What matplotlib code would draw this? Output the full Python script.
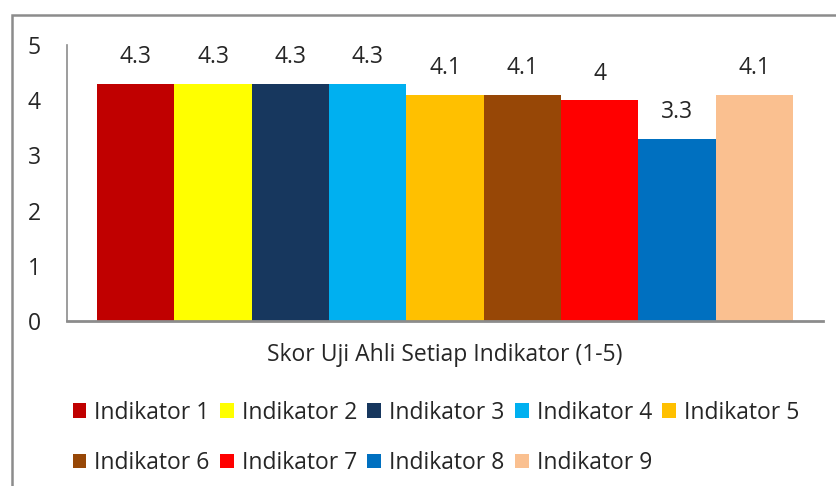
import numpy as np
import matplotlib.pyplot as plt
from matplotlib.patches import Rectangle, Patch

labels = ['Indikator 1', 'Indikator 2', 'Indikator 3', 'Indikator 4', 'Indikator 5',
          'Indikator 6', 'Indikator 7', 'Indikator 8', 'Indikator 9']
scores = [4.3, 4.3, 4.3, 4.3, 4.1, 4.1, 4, 3.3, 4.1]
score_text = ['4.3', '4.3', '4.3', '4.3', '4.1', '4.1', '4', '3.3', '4.1']
colors = ['#C00000', '#FFFF00', '#17375E', '#00B0F0', '#FFC000',
          '#974706', '#FF0000', '#0070C0', '#FAC090']

plt.rcParams['font.family'] = ['Open Sans', 'DejaVu Sans']
fs = 16.5
W, H = 837, 486

fig = plt.figure(figsize=(W / 100, H / 100), dpi=100)
ax = fig.add_axes([67 / W, 1 - 321 / H, (823 - 67) / W, (321 - 45) / H])

x = np.arange(len(scores))
ax.bar(x, scores, width=1.0, color=colors, linewidth=0)
for xi, v, t in zip(x, scores, score_text):
    ax.annotate(t, (xi, v), xytext=(0, 19), textcoords='offset points',
                ha='center', va='center', fontsize=fs, color='#262626')

ax.set_xlim(-0.5 - 0.39, 8.5 + 0.39)
ax.set_ylim(0, 5)
ax.set_yticks(range(6))
ax.set_xticks([])
ax.tick_params(axis='y', length=0, pad=19, labelsize=fs, labelcolor='#262626')
for s in ['top', 'right']:
    ax.spines[s].set_visible(False)
ax.spines['left'].set_color('#8c8c8c')
ax.spines['left'].set_linewidth(1.2)
ax.spines['bottom'].set_color('#8c8c8c')
ax.spines['bottom'].set_linewidth(2)

fig.text(445 / W, 1 - 355 / H, 'Skor Uji Ahli Setiap Indikator (1-5)',
         ha='center', va='center', fontsize=fs, color='#262626')

# outer chart border (only left/top visible, rest cropped)
fig.patches.append(Rectangle((12 / W, -0.1), 1.0, 1 - 15 / H + 0.1,
                             transform=fig.transFigure, fill=False,
                             edgecolor='#8c8c8c', linewidth=1.8))

handles = [Patch(facecolor=c, edgecolor='none') for c in colors]
order = [0, 5, 1, 6, 2, 7, 3, 8, 4]
fig.legend([handles[i] for i in order], [labels[i] for i in order],
           ncol=5, loc='center', bbox_to_anchor=(436 / W, 1 - 438 / H),
           frameon=False, fontsize=fs, handlelength=0.6, handleheight=0.6,
           handletextpad=0.35, columnspacing=0.45, labelspacing=1.15,
           labelcolor='#262626')

fig.savefig('out.png', dpi=100)
